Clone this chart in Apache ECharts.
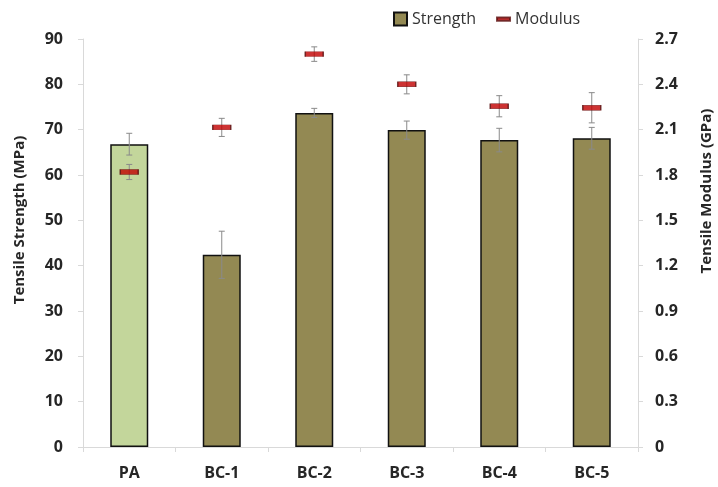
<!DOCTYPE html>
<html>
<head>
<meta charset="utf-8">
<script src="https://cdn.jsdelivr.net/npm/echarts@6/dist/echarts.min.js"></script>
<style>
  html, body { margin: 0; padding: 0; background: #fff; }
  #container { width: 718px; height: 487px; }
</style>
</head>
<body>
<div id="container"></div>
<script>
var categories = ['PA', 'BC-1', 'BC-2', 'BC-3', 'BC-4', 'BC-5'];
var strength = [66.8, 42.4, 73.7, 69.9, 67.7, 68.1];
var strengthErr = [2.4, 5.2, 1.0, 2.0, 2.6, 2.4];
var modulus = [1.82, 2.115, 2.60, 2.40, 2.255, 2.245];
var modulusErr = [0.05, 0.06, 0.048, 0.063, 0.07, 0.1];
var leftTicks = { min: 0, max: 90, interval: 10 };
var rightTicks = { min: 0, max: 2.7, interval: 0.3 };

var FONT = '"Open Sans", "Liberation Sans", sans-serif';
var OLIVE = '#938953';
var GREEN = '#c3d69b';
var RED = '#c00000';
var TEXT = '#262626';

function errData(vals, errs) {
  return vals.map(function (v, i) { return [i, v - errs[i], v + errs[i]]; });
}

function renderErr(params, api) {
  var x = api.value(0);
  var lo = api.coord([x, api.value(1)]);
  var hi = api.coord([x, api.value(2)]);
  var cap = 3;
  var style = { stroke: '#8a8a8a', lineWidth: 1 };
  return {
    type: 'group',
    children: [
      { type: 'line', shape: { x1: lo[0], y1: lo[1], x2: hi[0], y2: hi[1] }, style: style },
      { type: 'line', shape: { x1: lo[0] - cap, y1: lo[1], x2: lo[0] + cap, y2: lo[1] }, style: style },
      { type: 'line', shape: { x1: hi[0] - cap, y1: hi[1], x2: hi[0] + cap, y2: hi[1] }, style: style }
    ]
  };
}

var myChart = echarts.init(document.getElementById('container'));

var options = {
  animation: false,
  textStyle: { fontFamily: FONT },
  legend: {
    left: 388,
    top: 6,
    itemWidth: 13,
    itemHeight: 13,
    itemGap: 20,
    textStyle: { fontSize: 16, color: '#333', fontFamily: FONT },
    data: [
      { name: 'Strength', icon: 'rect' },
      { name: 'Modulus', icon: 'path://M0,0 H14 V3.5 H0 Z' }
    ]
  },
  grid: { left: 83, right: 80, top: 39, bottom: 40, outerBoundsMode: 'none', containLabel: false },
  xAxis: {
    type: 'category',
    data: categories,
    axisLine: { lineStyle: { color: '#d9d9d9' } },
    axisTick: { show: true, length: 5, lineStyle: { color: '#d9d9d9' } },
    axisLabel: { margin: 18, fontSize: 16, fontWeight: 'bold', color: TEXT, fontFamily: FONT }
  },
  yAxis: [
    {
      type: 'value',
      min: leftTicks.min, max: leftTicks.max, interval: leftTicks.interval,
      name: 'Tensile Strength (MPa)',
      nameLocation: 'middle',
      nameRotate: 90,
      nameGap: 56,
      nameTextStyle: { fontSize: 15, fontWeight: 'bold', color: TEXT, fontFamily: FONT, padding: [0, 0, 0, 46] },
      axisLine: { show: true, lineStyle: { color: '#d9d9d9' } },
      axisTick: { show: true, length: 5, lineStyle: { color: '#d9d9d9' } },
      splitLine: { show: false },
      axisLabel: { margin: 20, fontSize: 16, fontWeight: 'bold', color: TEXT, fontFamily: FONT }
    },
    {
      type: 'value',
      position: 'right',
      min: rightTicks.min, max: rightTicks.max, interval: rightTicks.interval,
      name: 'Tensile Modulus (GPa)',
      nameLocation: 'middle',
      nameRotate: 90,
      nameGap: 61,
      nameTextStyle: { fontSize: 15, fontWeight: 'bold', color: TEXT, fontFamily: FONT, padding: [0, 0, 0, 104] },
      axisLine: { show: true, lineStyle: { color: '#d9d9d9' } },
      axisTick: { show: true, length: 5, lineStyle: { color: '#d9d9d9' } },
      splitLine: { show: false },
      axisLabel: { margin: 17, fontSize: 16, fontWeight: 'bold', color: TEXT, fontFamily: FONT }
    }
  ],
  series: [
    {
      name: 'Strength',
      type: 'bar',
      barWidth: 38,
      itemStyle: { color: OLIVE, borderColor: '#111', borderWidth: 1.5 },
      data: strength.map(function (v, i) {
        return i === 0 ? { value: v, itemStyle: { color: GREEN } } : v;
      })
    },
    {
      name: 'StrengthErr',
      type: 'custom',
      renderItem: renderErr,
      encode: { x: 0, y: [1, 2] },
      data: errData(strength, strengthErr),
      z: 5
    },
    {
      name: 'ModulusErr',
      type: 'custom',
      yAxisIndex: 1,
      renderItem: renderErr,
      encode: { x: 0, y: [1, 2] },
      data: errData(modulus, modulusErr),
      z: 5
    },
    {
      name: 'Modulus',
      type: 'scatter',
      yAxisIndex: 1,
      symbol: 'rect',
      symbolSize: [18, 5],
      itemStyle: { color: RED, borderColor: '#5a1010', borderWidth: 0.8 },
      data: modulus,
      z: 10
    }
  ]
};

myChart.setOption(options);
</script>
</body>
</html>
